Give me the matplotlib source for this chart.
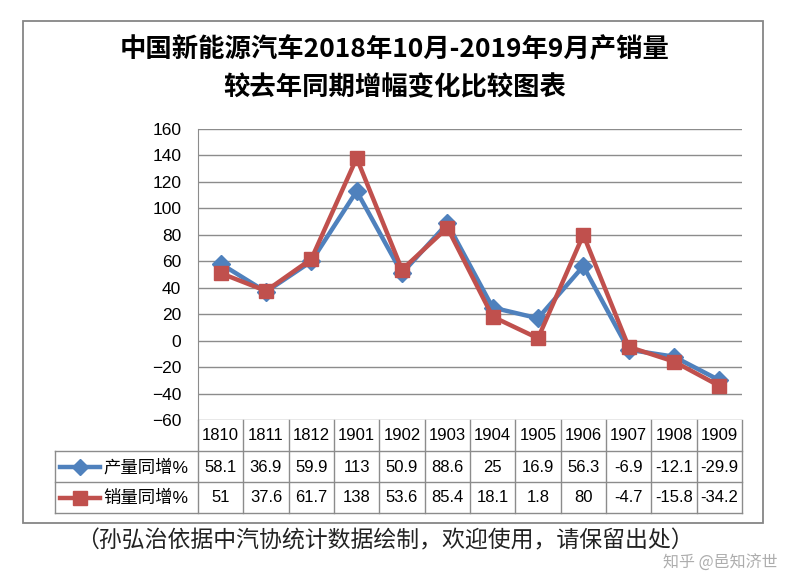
import matplotlib.pyplot as plt
from matplotlib.patches import Rectangle
from matplotlib.transforms import blended_transform_factory

plt.rcParams['font.family'] = ['Liberation Sans', 'Noto Sans CJK SC', 'DejaVu Sans']

months = ['1810', '1811', '1812', '1901', '1902', '1903', '1904', '1905', '1906', '1907', '1908', '1909']
prod = [58.1, 36.9, 59.9, 113, 50.9, 88.6, 25, 16.9, 56.3, -6.9, -12.1, -29.9]
sales = [51, 37.6, 61.7, 138, 53.6, 85.4, 18.1, 1.8, 80, -4.7, -15.8, -34.2]
prod_txt = ['58.1', '36.9', '59.9', '113', '50.9', '88.6', '25', '16.9', '56.3', '-6.9', '-12.1', '-29.9']
sales_txt = ['51', '37.6', '61.7', '138', '53.6', '85.4', '18.1', '1.8', '80', '-4.7', '-15.8', '-34.2']
series_names = ['产量同增%', '销量同增%']

blue = '#4F81BD'
red = '#C0504D'
grid_c = '#8C8C8C'

W, H = 796, 572
fig = plt.figure(figsize=(W / 100, H / 100), dpi=100)

# pixel overlay for border, title, table
ov = fig.add_axes([0, 0, 1, 1])
ov.set_xlim(0, W)
ov.set_ylim(H, 0)
ov.axis('off')

ax = fig.add_axes([198 / W, (H - 420) / H, 544 / W, 291 / H])
ax.set_facecolor('none')

x = list(range(len(months)))
ax.plot(x, prod, color=blue, lw=3.2, marker='D', ms=9, zorder=3)
ax.plot(x, sales, color=red, lw=3.2, marker='s', ms=10.5, zorder=4)

ax.set_xlim(-0.5, len(months) - 0.5)
ax.set_ylim(-60, 160)
ax.set_yticks(range(-60, 161, 20))
ax.set_xticks([])
ax.grid(axis='y', color=grid_c, lw=1)
ax.set_axisbelow(True)
for s in ['top', 'right', 'bottom']:
    ax.spines[s].set_visible(False)
ax.spines['left'].set_color(grid_c)
ax.tick_params(axis='y', length=0, pad=12, labelsize=12.5)

# outer frame
ov.add_patch(Rectangle((23, 21), 740, 502, fill=False, edgecolor='#868686', lw=1.3))

# title
ov.text(395, 50, '中国新能源汽车2018年10月-2019年9月产销量', ha='center', va='center',
        fontsize=19, fontweight='bold', family=['Noto Sans CJK SC', 'DejaVu Sans'])
ov.text(395, 88, '较去年同期增幅变化比较图表', ha='center', va='center',
        fontsize=19, fontweight='bold', family=['Noto Sans CJK SC', 'DejaVu Sans'])

# data table below the axes
tr = blended_transform_factory(ax.transData, ov.transData)
rows_y = [420, 451, 482, 513]
for i in range(len(months) + 1):
    ov.plot([i - 0.5, i - 0.5], [420, 513], color=grid_c, lw=1, transform=tr)
for yy in rows_y[1:]:
    ov.plot([55, 742], [yy, yy], color=grid_c, lw=1)
ov.plot([55, 55], [451, 513], color=grid_c, lw=1)

for i in x:
    ov.text(i, 436, months[i], ha='center', va='center', fontsize=12, transform=tr)
    ov.text(i, 467, prod_txt[i], ha='center', va='center', fontsize=12, transform=tr)
    ov.text(i, 498, sales_txt[i], ha='center', va='center', fontsize=12, transform=tr)

for yc, c, m, ms, name in [(467, blue, 'D', 8, series_names[0]), (498, red, 's', 9.5, series_names[1])]:
    ov.plot([60, 100], [yc, yc], color=c, lw=3.2)
    ov.plot([80], [yc], color=c, marker=m, ms=ms)
    ov.text(103, yc, name, ha='left', va='center', fontsize=12.5)

# footer
ov.text(385, 541, '（孙弘治依据中汽协统计数据绘制，欢迎使用，请保留出处）', ha='center', va='center',
        fontsize=16.5, family=['Noto Sans CJK SC', 'DejaVu Sans'], color='#222222')
ov.text(778, 563, '知乎 @邑知济世', ha='right', va='center', fontsize=11.5,
        family=['Noto Sans CJK SC', 'DejaVu Sans'], color='#999999', alpha=0.8)

fig.savefig('out.png', dpi=100)
